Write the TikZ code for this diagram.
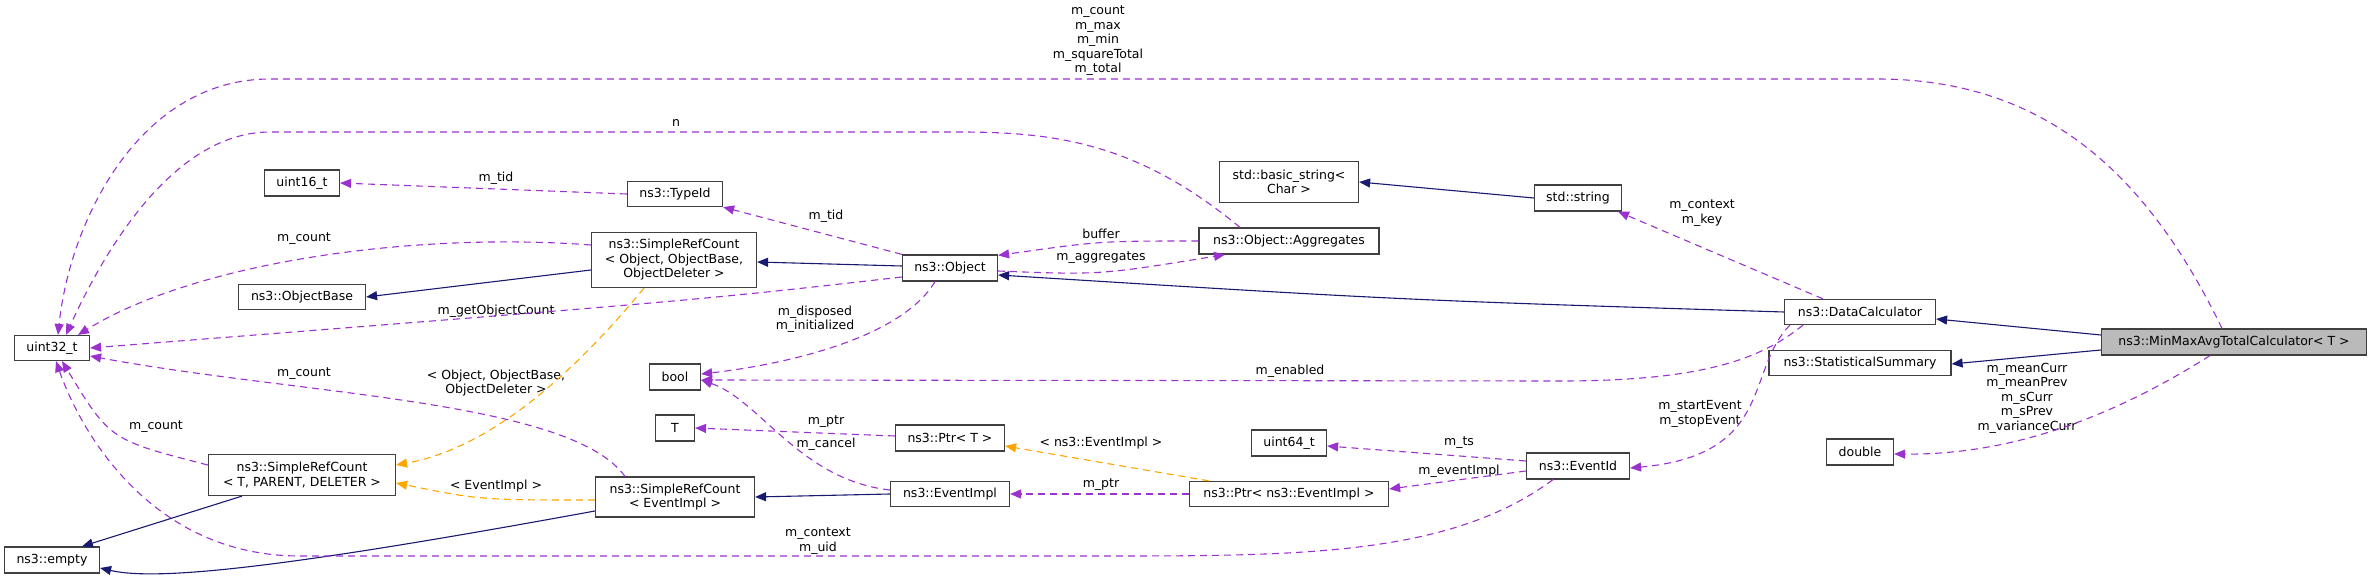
\documentclass[tikz,border=0pt]{standalone}
\usepackage{fontspec}
\setmainfont{DejaVu Sans}
\usetikzlibrary{arrows.meta}

\definecolor{inhcol}{HTML}{191970}
\definecolor{usecol}{HTML}{9A32CD}
\definecolor{tplcol}{HTML}{FFA500}

\tikzset{
  box/.style = {draw=black!75, line width=1.2pt, fill=white, inner sep=0pt, align=center,
                font=\fontsize{12.5}{14.5}\selectfont},
  lbl/.style = {inner sep=0pt, align=center, font=\fontsize{12.5}{14.5}\selectfont},
  tip/.style = {-{Triangle[length=11pt,width=9pt]}},
  inh/.style = {tip, draw=inhcol, line width=1.1pt},
  use/.style = {tip, draw=usecol, line width=1.1pt, dash pattern=on 7pt off 5pt},
  tpl/.style = {tip, draw=tplcol, line width=1.1pt, dash pattern=on 7pt off 5pt},
  use/.append style = {-{Triangle[length=11pt,width=9pt,fill=usecol]}, color=usecol},
  tpl/.append style = {-{Triangle[length=11pt,width=9pt,fill=tplcol]}, color=tplcol},
  inh/.append style = {color=inhcol}
}

\begin{document}
\begin{tikzpicture}[x=1pt, y=-1pt]
\useasboundingbox (0,0) rectangle (2372,577);

% Classes
\node[box, minimum width=75pt, minimum height=25pt] (u32) at (52,348) {uint32\_t};
\node[box, minimum width=95pt, minimum height=26pt] (empty) at (52,560) {ns3::empty};
\node[box, minimum width=75pt, minimum height=26pt] (u16) at (302,183) {uint16\_t};
\node[box, minimum width=127pt, minimum height=25pt] (objbase) at (302,297) {ns3::ObjectBase};
\node[box, minimum width=187pt, minimum height=41pt] (srct) at (302,475) {ns3::SimpleRefCount\\ < T, PARENT, DELETER >};
\node[box, minimum width=95pt, minimum height=25pt] (typeid) at (675,194) {ns3::TypeId};
\node[box, minimum width=165pt, minimum height=55pt] (srcobj) at (674,260) {ns3::SimpleRefCount\\ < Object, ObjectBase,\\ ObjectDeleter >};
\node[box, minimum width=51pt, minimum height=26pt] (bool) at (675,377) {bool};
\node[box, minimum width=39pt, minimum height=26pt] (t) at (675,428) {T};
\node[box, minimum width=159pt, minimum height=40pt] (srcev) at (675,497) {ns3::SimpleRefCount\\ < EventImpl >};
\node[box, minimum width=95pt, minimum height=26pt] (obj) at (950,268) {ns3::Object};
\node[box, minimum width=109pt, minimum height=26pt] (ptrt) at (950,438) {ns3::Ptr< T >};
\node[box, minimum width=119pt, minimum height=25pt] (evimpl) at (950,494) {ns3::EventImpl};
\node[box, minimum width=180pt, minimum height=26pt] (aggr) at (1289,241) {ns3::Object::Aggregates};
\node[box, minimum width=139pt, minimum height=41pt] (bstr) at (1289,182) {std::basic\_string<\\ Char >};
\node[box, minimum width=87pt, minimum height=26pt] (str) at (1578,198) {std::string};
\node[box, minimum width=75pt, minimum height=26pt] (u64) at (1289,443) {uint64\_t};
\node[box, minimum width=199pt, minimum height=25pt] (ptrev) at (1289,494) {ns3::Ptr< ns3::EventImpl >};
\node[box, minimum width=103pt, minimum height=26pt] (evid) at (1578,466) {ns3::EventId};
\node[box, minimum width=151pt, minimum height=25pt] (datacalc) at (1860,312) {ns3::DataCalculator};
\node[box, minimum width=182pt, minimum height=25pt] (statsum) at (1860,363) {ns3::StatisticalSummary};
\node[box, minimum width=67pt, minimum height=26pt] (dbl) at (1860,452) {double};
\node[box, minimum width=265pt, minimum height=26pt, fill=black!27] (minmax) at (2234,342) {ns3::MinMaxAvgTotalCalculator< T >};

% Labels
\node[lbl] (lcount) at (1098,41) {m\_count\\ m\_max\\ m\_min\\ m\_squareTotal\\ m\_total};
\node[lbl] (ln) at (676,123) {n};
\node[lbl] (ltid) at (496,178) {m\_tid};
\node[lbl] (lcnt1) at (304,239) {m\_count};
\node[lbl] (lgoc) at (496,311) {m\_getObjectCount};
\node[lbl] (lcnt2) at (304,374) {m\_count};
\node[lbl] (lcnt3) at (156,427) {m\_count};
\node[lbl] (ltpl1) at (496,383) {< Object, ObjectBase,\\ ObjectDeleter >};
\node[lbl] (ltpl2) at (496,486) {< EventImpl >};
\node[lbl] (lctx) at (818,541) {m\_context\\ m\_uid};
\node[lbl] (ltid2) at (826,216) {m\_tid};
\node[lbl] (ldisp) at (815,319) {m\_disposed\\ m\_initialized};
\node[lbl] (lbuf) at (1101,234) {buffer};
\node[lbl] (laggr) at (1101,258) {m\_aggregates};
\node[lbl] (lkey) at (1702,213) {m\_context\\ m\_key};
\node[lbl] (lenab) at (1290,371) {m\_enabled};
\node[lbl] (lstart) at (1700,414) {m\_startEvent\\ m\_stopEvent};
\node[lbl] (lmean) at (2027,398) {m\_meanCurr\\ m\_meanPrev\\ m\_sCurr\\ m\_sPrev\\ m\_varianceCurr};
\node[lbl] (lts) at (1459,443) {m\_ts};
\node[lbl] (levi) at (1459,471) {m\_eventImpl};
\node[lbl] (lptr1) at (1101,485) {m\_ptr};
\node[lbl] (ltpl3) at (1101,443) {< ns3::EventImpl >};
\node[lbl] (lptr2) at (826,422) {m\_ptr};
\node[lbl] (lcancel) at (826,444) {m\_cancel};

% Inheritance
\draw[inh] ([yshift=-10pt]srcobj.west) -- (objbase.east);
\draw[inh] ([xshift=-60pt]srct.south) -- ([xshift=30pt]empty.north);
\draw[inh] ([yshift=-14pt]srcev.west) .. controls (300,565) and (160,582) .. ([yshift=-8pt]empty.east);
\draw[inh] ([yshift=2pt]obj.west) -- ([yshift=-2pt]srcobj.east);
\draw[inh] (datacalc.west) .. controls (1400,300) .. ([yshift=-7pt]obj.east);
\draw[inh] (str.west) -- (bstr.east);
\draw[inh] ([yshift=7pt]minmax.west) -- ([yshift=-7pt]datacalc.east);
\draw[inh] ([yshift=-8pt]minmax.west) -- ([yshift=-1pt]statsum.east);
\draw[inh] (evimpl.west) -- (srcev.east);

% Members
\draw[use] ([xshift=-12pt]minmax.north) .. controls (2150,180) and (2050,79) .. (1877,79) -- (270,79) .. controls (140,79) and (70,220) .. ([xshift=6pt]u32.north);
\draw[use] ([xshift=-49pt]aggr.north) .. controls (1140,145) and (1060,132) .. (960,132) -- (270,132) .. controls (170,132) and (100,260) .. ([xshift=14pt]u32.north);
\draw[use] ([yshift=15pt]srcobj.west) .. controls (420,232) and (200,260) .. ([xshift=26pt]u32.north);
\draw[use] ([yshift=-9pt]obj.west) .. controls (700,300) .. (u32.east);
\draw[use] ([xshift=-50pt]srcev.north) .. controls (570,400) and (300,395) .. ([yshift=-8pt]u32.east);
\draw[use] ([yshift=10pt]srct.west) .. controls (110,440) .. ([xshift=10pt]u32.south);
\draw[use] ([xshift=-25pt]evid.south) .. controls (1450,556) and (1300,556) .. (1100,556) -- (300,556) .. controls (150,556) and (80,430) .. ([xshift=4pt]u32.south);
\draw[use] (typeid.west) -- (u16.east);
\draw[use] (obj.north west) -- (typeid.south east);
\draw[use] ([xshift=-15pt]obj.south) .. controls (900,340) and (780,365) .. ([yshift=3pt]bool.east);
\draw[use] (aggr.west) .. controls (1100,241) .. ([yshift=-1pt]obj.north east);
\draw[use] ([yshift=-3pt]obj.east) .. controls (1100,275) .. ([xshift=-64pt]aggr.south);
\draw[use] ([xshift=-37pt]datacalc.north) -- ([xshift=40pt]str.south);
\draw[use] ([xshift=-57pt]datacalc.south) .. controls (1760,360) and (1700,381) .. (1560,381) -- ([yshift=-3pt]bool.east);
\draw[use] ([xshift=-70pt]datacalc.south) .. controls (1745,370) and (1775,455) .. ([yshift=-2pt]evid.east);
\draw[use] ([xshift=-24pt]minmax.south) .. controls (2100,425) and (2000,455) .. ([yshift=-2pt]dbl.east);
\draw[use] ([yshift=5pt]evid.west) -- ([yshift=-3pt]u64.east);
\draw[use] ([yshift=-5pt]evid.west) -- ([yshift=5pt]ptrev.east);
\draw[use] (ptrev.west) -- (evimpl.east);
\draw[use] ([yshift=2pt]ptrt.west) -- (t.east);
\draw[use] ([yshift=4pt]evimpl.west) .. controls (800,480) and (760,400) .. ([yshift=-3pt]bool.east);

% Template instances
\draw[tpl] ([xshift=-30pt]srcobj.south) .. controls (560,390) and (480,450) .. ([yshift=10pt]srct.east);
\draw[tpl] ([yshift=-3pt]srcev.west) .. controls (480,500) .. ([yshift=-8pt]srct.east);
\draw[tpl] ([xshift=-80pt]ptrev.north) -- ([yshift=-8pt]ptrt.east);
\end{tikzpicture}
\end{document}
